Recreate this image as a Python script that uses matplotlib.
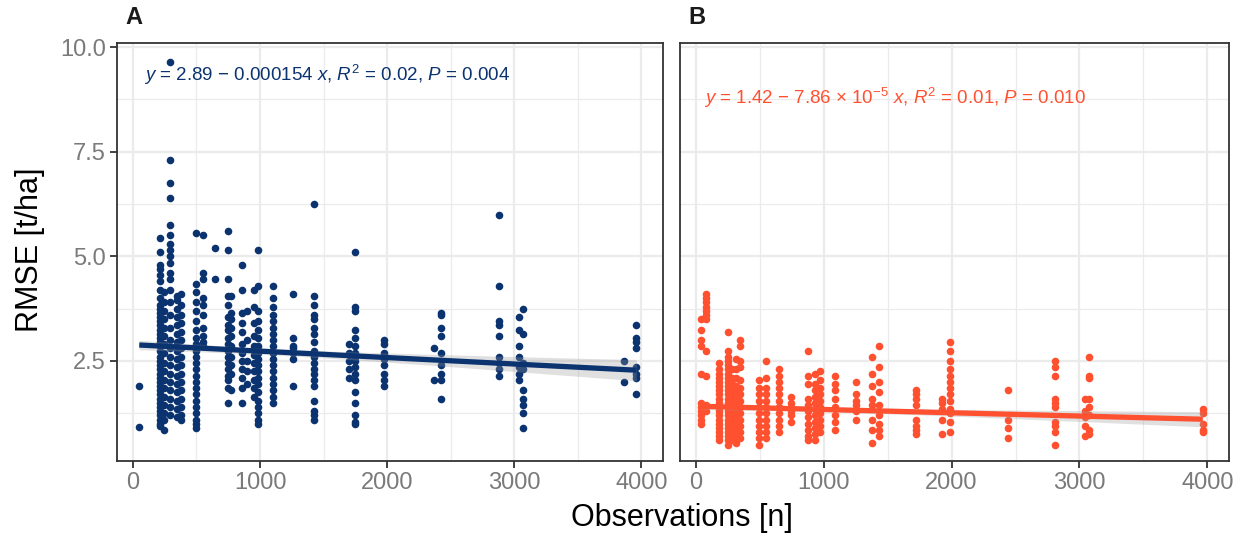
import matplotlib
matplotlib.use("Agg")
import matplotlib.pyplot as plt
import numpy as np

plt.rcParams['font.family'] = ['Liberation Sans', 'DejaVu Sans']
plt.rcParams['mathtext.fontset'] = 'custom'
plt.rcParams['mathtext.rm'] = 'Liberation Sans'
plt.rcParams['mathtext.it'] = 'Liberation Sans:italic'

# Panel A: observations per column and RMSE values
obs_a = [50, 215, 245, 290, 345, 375, 500, 555, 645, 745, 770, 860, 900, 950, 985,
         1100, 1260, 1425, 1700, 1745, 1975, 2365, 2420, 2880, 3040, 3070, 3860, 3960]
rmse_a = [
    [1.9, 0.93],
    [5.45, 5.1, 4.8, 4.7, 4.55, 4.4, 4.2, 4.0, 3.85, 3.75, 3.65, 3.55, 3.45, 3.35, 3.25, 3.15,
     3.05, 2.95, 2.85, 2.75, 2.6, 2.5, 2.4, 2.3, 2.2, 2.1, 2.0, 1.9, 1.8, 1.7, 1.6, 1.5, 1.4,
     1.3, 1.2, 1.1, 1.0, 0.95],
    [4.15, 3.9, 3.7, 3.5, 3.3, 3.1, 2.9, 2.7, 2.45, 2.25, 2.05, 1.85, 1.65, 1.45, 1.25, 1.1, 0.85],
    [9.65, 7.3, 6.75, 6.4, 5.75, 5.5, 5.3, 5.15, 5.0, 4.85, 4.6, 4.45, 4.2, 3.9, 3.6, 3.3, 3.0,
     2.8, 2.6, 2.4, 2.2, 2.0, 1.8, 1.6, 1.4, 1.2],
    [4.05, 3.95, 3.75, 3.55, 3.35, 3.15, 2.95, 2.75, 2.55, 2.35, 2.15, 1.95, 1.75, 1.55, 1.35, 1.15],
    [4.1, 3.85, 3.6, 3.4, 3.2, 3.0, 2.8, 2.6, 2.4, 2.2, 2.0, 1.8, 1.6, 1.4, 1.2, 1.1],
    [5.55, 4.35, 4.15, 3.9, 3.7, 3.45, 3.25, 3.05, 2.9, 2.75, 2.6, 2.45, 2.3, 2.15, 2.0, 1.85,
     1.7, 1.55, 1.4, 1.25, 1.1, 1.0, 0.9],
    [5.5, 4.6, 4.45, 4.0, 3.85, 3.6, 3.3, 3.1, 2.95, 2.85],
    [5.2, 4.45],
    [5.6, 5.15, 4.45, 4.05, 3.85, 3.55, 3.35, 3.25, 3.05, 2.9, 2.75, 2.6, 2.45, 2.3, 2.15, 2.05,
     1.85, 1.5],
    [4.05, 3.65, 3.5, 3.3, 3.1, 2.85, 2.6, 2.4, 2.2, 1.8],
    [4.8, 4.2, 3.65, 3.4, 3.2, 2.9, 2.7, 2.5, 2.3, 2.1, 1.85, 1.5],
    [3.7, 3.0, 2.5, 2.25, 1.95],
    [4.2, 3.8, 3.4, 3.1, 2.85, 2.65, 2.45, 2.25, 2.05, 1.85, 1.65],
    [5.15, 4.3, 3.7, 3.45, 3.25, 3.05, 2.85, 2.7, 2.55, 2.4, 2.25, 2.1, 1.95, 1.75, 1.55, 1.4,
     1.25, 1.1, 1.0],
    [4.3, 4.0, 3.8, 3.6, 3.45, 3.3, 3.15, 3.0, 2.85, 2.7, 2.55, 2.4, 2.25, 2.1, 1.95, 1.8, 1.65, 1.5],
    [4.1, 3.05, 2.85, 2.8, 2.7, 2.55, 1.9],
    [6.25, 4.05, 3.85, 3.6, 3.5, 3.3, 3.15, 2.95, 2.75, 2.6, 2.45, 2.3, 2.2, 2.05, 1.9, 1.55,
     1.3, 1.2, 1.1],
    [2.9, 2.7, 2.5, 2.3, 2.1],
    [5.1, 3.8, 3.7, 3.25, 3.05, 2.85, 2.7, 2.6, 2.5, 2.35, 2.2, 2.05, 1.75, 1.5, 1.2, 1.05, 1.0],
    [3.0, 2.9, 2.7, 2.55, 2.4, 2.2, 2.05, 1.9],
    [2.8, 2.05],
    [3.65, 3.6, 3.3, 3.1, 2.7, 2.4, 2.2, 2.05, 1.6],
    [6.0, 4.3, 3.45, 3.35, 3.1, 2.6, 2.45, 2.3, 2.15],
    [3.55, 3.25, 2.85, 2.6, 2.35, 2.2, 2.05],
    [3.75, 3.15, 2.45, 2.3, 1.8, 1.6, 1.45, 1.25, 0.9],
    [2.5, 2.0],
    [3.35, 3.05, 2.95, 2.8, 2.35, 2.2, 2.1, 1.7],
]

# Panel B
obs_b = [40, 80, 180, 250, 285, 315, 345, 490, 550, 650, 740, 880, 930, 970, 1085,
         1250, 1375, 1430, 1720, 1925, 1990, 2440, 2810, 3040, 3075, 3965]
rmse_b = [
    [3.5, 3.25, 3.0, 2.85, 2.2, 1.5, 1.4, 1.3, 1.2, 1.1, 1.0],
    [4.1, 4.0, 3.9, 3.8, 3.7, 3.6, 3.5, 2.75, 2.15, 1.45, 1.3],
    [2.45, 2.3, 2.2, 2.1, 2.0, 1.9, 1.8, 1.7, 1.6, 1.5, 1.4, 1.3, 1.2, 1.1, 1.0, 0.9, 0.8, 0.7, 0.6],
    [3.2, 2.75, 2.6, 2.5, 2.4, 2.3, 2.2, 2.1, 2.0, 1.9, 1.8, 1.7, 1.6, 1.5, 1.4, 1.3, 1.2, 1.1,
     1.0, 0.9, 0.8, 0.7, 0.6, 0.5],
    [2.3, 2.1, 1.95, 1.8, 1.65, 1.5, 1.35, 1.2, 1.05, 0.9, 0.75, 0.6],
    [2.55, 2.3, 2.1, 1.9, 1.75, 1.6, 1.45, 1.3, 1.15, 1.0, 0.85, 0.7, 0.55],
    [3.0, 2.85, 2.5, 2.35, 2.05, 1.85, 1.7, 1.55, 1.4, 1.25, 1.1, 0.95, 0.8, 0.65],
    [2.05, 1.85, 1.7, 1.55, 1.4, 1.25, 1.1, 0.95, 0.8, 0.65, 0.5],
    [2.5, 2.1, 1.85, 1.7, 1.55, 1.4, 1.25, 1.1, 0.95, 0.8, 0.65],
    [2.3, 2.15, 2.0, 1.85, 1.7, 1.55, 1.4, 1.25, 1.1, 0.95, 0.8],
    [1.65, 1.5, 1.4, 1.3, 1.2, 1.05],
    [2.75, 2.15, 1.95, 1.6, 1.45, 1.3, 1.15, 1.0, 0.85, 0.7, 0.6],
    [2.2, 1.95, 1.8, 1.65, 1.5, 1.35, 1.2, 1.05, 0.9, 0.75, 0.6],
    [2.25, 2.05, 1.85, 1.7, 1.55, 1.4, 1.25, 1.1, 0.95, 0.8],
    [2.15, 1.95, 1.8, 1.6, 1.4, 1.2, 1.05, 0.85],
    [2.0, 1.7, 1.55, 1.45, 1.3, 1.1],
    [2.6, 2.2, 1.9, 1.6, 1.45, 1.1, 0.85, 0.55],
    [2.85, 2.35, 2.0, 1.75, 1.45, 1.2, 1.0, 0.85, 0.7],
    [1.8, 1.7, 1.6, 1.45, 1.1, 0.95, 0.85, 0.75],
    [1.6, 1.5, 1.35, 1.1, 0.75],
    [2.95, 2.75, 2.5, 2.3, 2.15, 2.0, 1.85, 1.7, 1.55, 1.35, 1.25, 1.05, 0.8],
    [1.8, 1.1, 0.9, 0.65],
    [2.5, 2.35, 2.15, 1.6, 1.5, 1.4, 1.05, 0.95, 0.8, 0.5],
    [1.6, 1.3, 1.15, 0.95, 0.7],
    [2.6, 2.15, 2.1, 1.6, 1.4, 1.2, 0.85, 0.75],
    [1.35, 1.25, 1.0, 0.85, 0.8],
]

# fitted coefficients as printed on the chart
fit_a = (2.89, -0.000154)
fit_b = (1.42, -7.86e-5)
label_a = r"$\it{y}$ = 2.89 − 0.000154 $\it{x}$, $\it{R}^2$ = 0.02, $\it{P}$ = 0.004"
label_b = r"$\it{y}$ = 1.42 − 7.86 × 10$^{-5}$ $\it{x}$, $\it{R}^2$ = 0.01, $\it{P}$ = 0.010"

col_a = "#0B3370"
col_b = "#FF5030"
tick_col = "#7A7A7A"
frame_col = "#333333"

W, H = 1245, 541
fig = plt.figure(figsize=(W / 100, H / 100), dpi=100)
axA = fig.add_axes([117 / W, 1 - 461 / H, (663 - 117) / W, (461 - 43) / H])
axB = fig.add_axes([680 / W, 1 - 461 / H, (1229 - 680) / W, (461 - 43) / H])


def flatten(xs, ys):
    xx, yy = [], []
    for x, col in zip(xs, ys):
        xx += [x] * len(col)
        yy += col
    return np.array(xx, float), np.array(yy, float)


def panel(ax, xs, ys, fit, color, label, lx, ly, tag):
    x, y = flatten(xs, ys)
    ax.scatter(x, y, s=30, color=color, linewidths=0, zorder=3)

    b0, b1 = fit
    xg = np.linspace(x.min(), x.max(), 100)
    yg = b0 + b1 * xg
    res = y - (b0 + b1 * x)
    n = len(x)
    s = np.sqrt((res ** 2).sum() / (n - 2))
    se = s * np.sqrt(1 / n + (xg - x.mean()) ** 2 / ((x - x.mean()) ** 2).sum())
    ax.fill_between(xg, yg - 1.2 * se, yg + 1.2 * se, color="#999999", alpha=0.3,
                    linewidth=0, zorder=4)
    ax.plot(xg, yg, color=color, lw=3.8, zorder=5, solid_capstyle="butt")

    ax.set_xlim(-125, 4170)
    ax.set_ylim(0.11, 10.1)
    ax.set_xticks([0, 1000, 2000, 3000, 4000])
    ax.set_xticks([500, 1500, 2500, 3500], minor=True)
    ax.set_yticks([2.5, 5.0, 7.5, 10.0])
    ax.set_yticks([1.25, 3.75, 6.25, 8.75], minor=True)
    ax.grid(which="major", color="#EBEBEB", lw=1.6, zorder=0)
    ax.grid(which="minor", color="#EBEBEB", lw=0.9, zorder=0)
    ax.set_axisbelow(True)
    for sp in ax.spines.values():
        sp.set_color(frame_col)
        sp.set_linewidth(1.3)
    ax.tick_params(which="major", length=5, width=1.3, color=frame_col,
                   labelsize=17, labelcolor=tick_col, pad=3)
    ax.tick_params(which="minor", length=0)
    ax.text(lx, ly, label, color=color, fontsize=13.5, va="center", ha="left", zorder=6)
    ax.text(0.016, 1.06, tag, transform=ax.transAxes, fontsize=17, fontweight="bold",
            va="center", ha="left", color="#1A1A1A")


panel(axA, obs_a, rmse_a, fit_a, col_a, label_a, 90, 9.33, "A")
panel(axB, obs_b, rmse_b, fit_b, col_b, label_b, 66, 8.78, "B")

axA.set_yticklabels(["2.5", "5.0", "7.5", "10.0"])
axB.tick_params(axis="y", which="both", length=0, labelleft=False)

fig.text(30 / W, 1 - 250 / H, "RMSE [t/ha]", rotation=90, fontsize=22, va="center", ha="center")
fig.text(682 / W, 1 - 518 / H, "Observations [n]", fontsize=22, va="center", ha="center")

fig.savefig("out.png", dpi=100)
